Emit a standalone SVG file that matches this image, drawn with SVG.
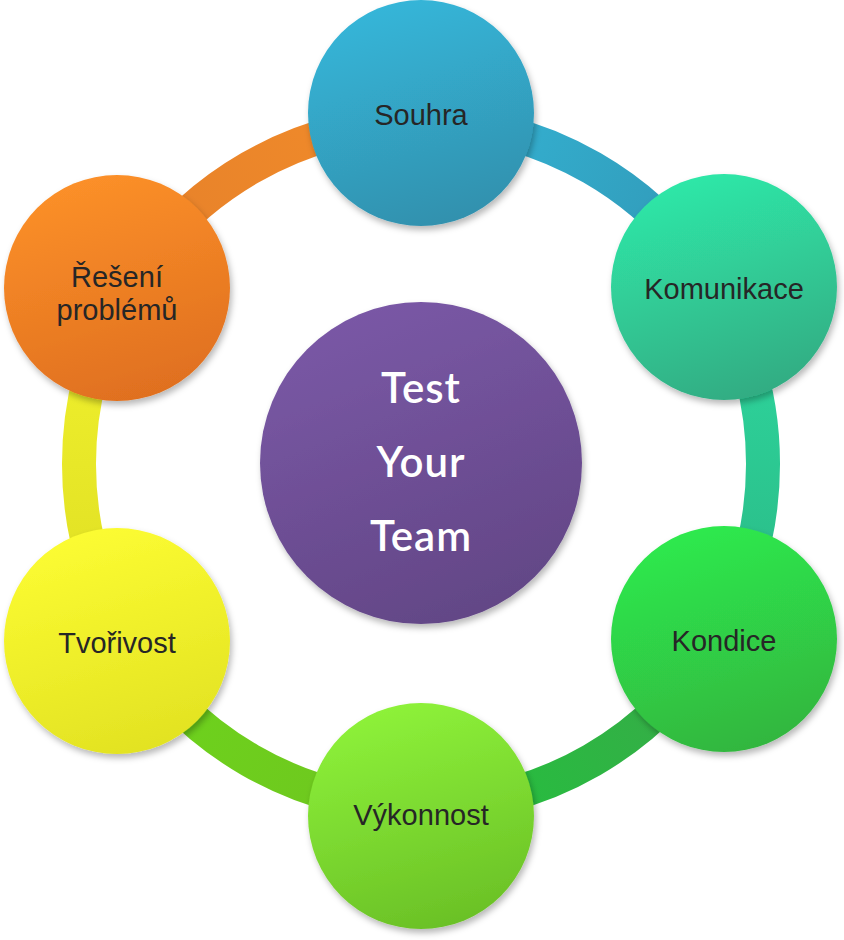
<svg xmlns="http://www.w3.org/2000/svg" width="844" height="940" viewBox="0 0 844 940">
<style>
.lbl{font-family:"Liberation Sans",Arial,sans-serif;font-size:29px;fill:#262626;text-anchor:middle}
.ctr{font-family:"Lato","Noto Sans",sans-serif;font-weight:600;font-size:42px;fill:#ffffff;text-anchor:middle;letter-spacing:1px}
.arc{fill:none;stroke-width:34}
</style>
<defs>
<filter id="sh" x="-20%" y="-20%" width="140%" height="140%">
<feDropShadow dx="2" dy="4" stdDeviation="3" flood-color="#000" flood-opacity="0.28"/>
</filter>
<linearGradient id="gS" x1="0.35" y1="0" x2="0.65" y2="1"><stop offset="0" stop-color="#35b6d9"/><stop offset="1" stop-color="#3290ad"/></linearGradient>
<linearGradient id="gK" x1="0.35" y1="0" x2="0.65" y2="1"><stop offset="0" stop-color="#2ee8a8"/><stop offset="1" stop-color="#33ab82"/></linearGradient>
<linearGradient id="gD" x1="0.35" y1="0" x2="0.65" y2="1"><stop offset="0" stop-color="#2eea4e"/><stop offset="1" stop-color="#31b53e"/></linearGradient>
<linearGradient id="gV" x1="0.35" y1="0" x2="0.65" y2="1"><stop offset="0" stop-color="#8ef23a"/><stop offset="1" stop-color="#6ac026"/></linearGradient>
<linearGradient id="gT" x1="0.35" y1="0" x2="0.65" y2="1"><stop offset="0" stop-color="#fcfc32"/><stop offset="1" stop-color="#e2e222"/></linearGradient>
<linearGradient id="gR" x1="0.35" y1="0" x2="0.65" y2="1"><stop offset="0" stop-color="#fc9029"/><stop offset="1" stop-color="#df6f1f"/></linearGradient>
<linearGradient id="gC" x1="0.3" y1="0" x2="0.7" y2="1"><stop offset="0" stop-color="#7a58a6"/><stop offset="1" stop-color="#624685"/></linearGradient>
<linearGradient id="aS" gradientUnits="userSpaceOnUse" x1="421" y1="122" x2="717" y2="293"><stop offset="0" stop-color="#34b5d6"/><stop offset="1" stop-color="#3196b4"/></linearGradient>
<linearGradient id="aK" gradientUnits="userSpaceOnUse" x1="717" y1="293" x2="717" y2="635"><stop offset="0" stop-color="#2ed9a0"/><stop offset="1" stop-color="#2ab884"/></linearGradient>
<linearGradient id="aD" gradientUnits="userSpaceOnUse" x1="717" y1="635" x2="421" y2="806"><stop offset="0" stop-color="#3aa84a"/><stop offset="1" stop-color="#22c23c"/></linearGradient>
<linearGradient id="aV" gradientUnits="userSpaceOnUse" x1="421" y1="806" x2="125" y2="635"><stop offset="0" stop-color="#6fc51f"/><stop offset="1" stop-color="#6dd51c"/></linearGradient>
<linearGradient id="aT" gradientUnits="userSpaceOnUse" x1="125" y1="635" x2="125" y2="293"><stop offset="0" stop-color="#dede22"/><stop offset="1" stop-color="#f2f22e"/></linearGradient>
<linearGradient id="aR" gradientUnits="userSpaceOnUse" x1="125" y1="293" x2="421" y2="122"><stop offset="0" stop-color="#e5802a"/><stop offset="1" stop-color="#f28c2a"/></linearGradient>
</defs>
<g id="connectors">
<path class="arc" stroke="url(#aS)" d="M421,122 A342,342 0 0 1 717.2,293"/>
<path class="arc" stroke="url(#aK)" d="M717.2,293 A342,342 0 0 1 717.2,635"/>
<path class="arc" stroke="url(#aD)" d="M717.2,635 A342,342 0 0 1 421,806"/>
<path class="arc" stroke="url(#aV)" d="M421,806 A342,342 0 0 1 124.8,635"/>
<path class="arc" stroke="url(#aT)" d="M124.8,635 A342,342 0 0 1 124.8,293"/>
<path class="arc" stroke="url(#aR)" d="M124.8,293 A342,342 0 0 1 421,122"/>
</g>
<g id="center">
<circle cx="421" cy="463" r="161" fill="url(#gC)" filter="url(#sh)"/>
<text class="ctr" x="421" y="403">Test</text>
<text class="ctr" x="421" y="477">Your</text>
<text class="ctr" x="421" y="551">Team</text>
</g>
<g id="souhra">
<circle cx="421" cy="113" r="113" fill="url(#gS)" filter="url(#sh)"/>
<text class="lbl" x="421" y="125">Souhra</text>
</g>
<g id="komunikace">
<circle cx="724" cy="287" r="113" fill="url(#gK)" filter="url(#sh)"/>
<text class="lbl" x="724" y="299">Komunikace</text>
</g>
<g id="kondice">
<circle cx="724" cy="639" r="113" fill="url(#gD)" filter="url(#sh)"/>
<text class="lbl" x="724" y="651">Kondice</text>
</g>
<g id="vykonnost">
<circle cx="421" cy="816" r="113" fill="url(#gV)" filter="url(#sh)"/>
<text class="lbl" x="421" y="825">Výkonnost</text>
</g>
<g id="tvorivost">
<circle cx="117" cy="641" r="113" fill="url(#gT)" filter="url(#sh)"/>
<text class="lbl" x="117" y="653">Tvořivost</text>
</g>
<g id="reseni">
<circle cx="117" cy="288" r="113" fill="url(#gR)" filter="url(#sh)"/>
<text class="lbl" x="117" y="287">Řešení</text>
<text class="lbl" x="117" y="320">problémů</text>
</g>
</svg>
